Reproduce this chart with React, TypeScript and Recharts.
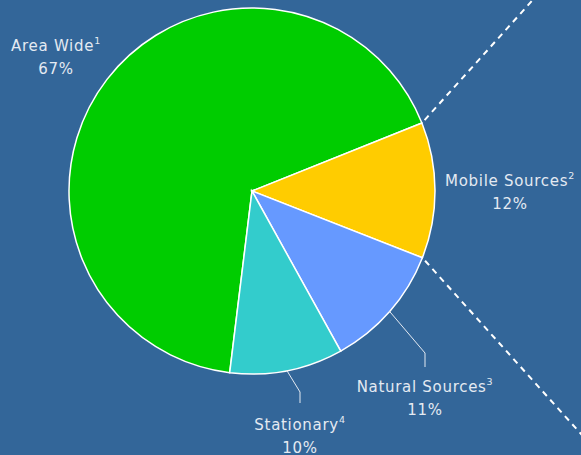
import React from 'react';
import { PieChart, Pie, Cell } from 'recharts';

// Emission source shares (percent)
const categories = ['Area Wide', 'Mobile Sources', 'Natural Sources', 'Stationary'];
const footnotes = ['1', '2', '3', '4'];
const shares = [67, 12, 11, 10];
const colors = ['#00CC00', '#FFCC00', '#6699FF', '#33CCCC'];

const data = categories.map((name, i) => ({ name, value: shares[i], note: footnotes[i] }));

// label placement relative to pie centre: text x, baselines, optional leader elbow/end
const labelLayout = [
  { x: -196, y1: -140, y2: -117 },
  { x: 258, y1: -5, y2: 18 },
  { x: 173, y1: 201, y2: 224, elbow: [173, 162], end: [173, 176] },
  { x: 48, y1: 239, y2: 262, elbow: [48, 201], end: [48, 212] }
];

const TEXT = '#E4EAF2';
const RAD = Math.PI / 180;
const CONNECTOR_ANGLE = 48;

const renderLabel = (props: any) => {
  const { cx, cy, midAngle, outerRadius, index, startAngle, endAngle, payload } = props;
  const lay = labelLayout[index];
  const item = payload && payload.name ? payload : data[index];
  const parts: React.ReactNode[] = [];

  if (lay.elbow) {
    const sx = cx + outerRadius * Math.cos(-midAngle * RAD);
    const sy = cy + outerRadius * Math.sin(-midAngle * RAD);
    parts.push(
      <polyline
        key="leader"
        points={`${sx},${sy} ${cx + lay.elbow[0]},${cy + lay.elbow[1]} ${cx + lay.end[0]},${cy + lay.end[1]}`}
        fill="none"
        stroke={TEXT}
        strokeWidth={1}
      />
    );
  }

  // pie-of-pie style connectors from the mobile slice edges
  if (index === 1) {
    [
      { a: startAngle, dir: CONNECTOR_ANGLE },
      { a: endAngle, dir: -CONNECTOR_ANGLE }
    ].forEach((c, k) => {
      const x0 = cx + outerRadius * Math.cos(-c.a * RAD);
      const y0 = cy + outerRadius * Math.sin(-c.a * RAD);
      const len = 320;
      parts.push(
        <line
          key={`conn-${k}`}
          x1={x0 + 4 * Math.cos(-c.dir * RAD)}
          y1={y0 + 4 * Math.sin(-c.dir * RAD)}
          x2={x0 + len * Math.cos(-c.dir * RAD)}
          y2={y0 + len * Math.sin(-c.dir * RAD)}
          stroke="#FFFFFF"
          strokeWidth={2}
          strokeDasharray="6 5"
        />
      );
    });
  }

  parts.push(
    <text
      key="name"
      x={cx + lay.x}
      y={cy + lay.y1}
      textAnchor="middle"
      fill={TEXT}
      fontSize={15}
      letterSpacing={0.7}
      fontFamily="'DejaVu Sans', Verdana, sans-serif"
    >
      {item.name}
      <tspan fontSize={9.5} dy={-7}>{item.note}</tspan>
    </text>
  );
  parts.push(
    <text
      key="pct"
      x={cx + lay.x}
      y={cy + lay.y2}
      textAnchor="middle"
      fill={TEXT}
      fontSize={15}
      letterSpacing={0.7}
      fontFamily="'DejaVu Sans', Verdana, sans-serif"
    >
      {`${item.value}%`}
    </text>
  );

  return <g>{parts}</g>;
};

export default function App() {
  return (
    <div style={{ position: 'absolute', left: 0, top: 0, width: 581, height: 455, background: '#336699', overflow: 'hidden' }}>
      <PieChart width={581} height={455} margin={{ top: 0, right: 0, bottom: 0, left: 0 }}>
        <Pie
          data={data}
          dataKey="value"
          nameKey="name"
          cx={252}
          cy={191}
          outerRadius={183}
          startAngle={263}
          endAngle={-97}
          stroke="#FFFFFF"
          strokeWidth={1.5}
          label={renderLabel}
          labelLine={false}
          isAnimationActive={false}
        >
          {data.map((entry, i) => (
            <Cell key={`cell-${i}`} fill={colors[i]} />
          ))}
        </Pie>
      </PieChart>
    </div>
  );
}
